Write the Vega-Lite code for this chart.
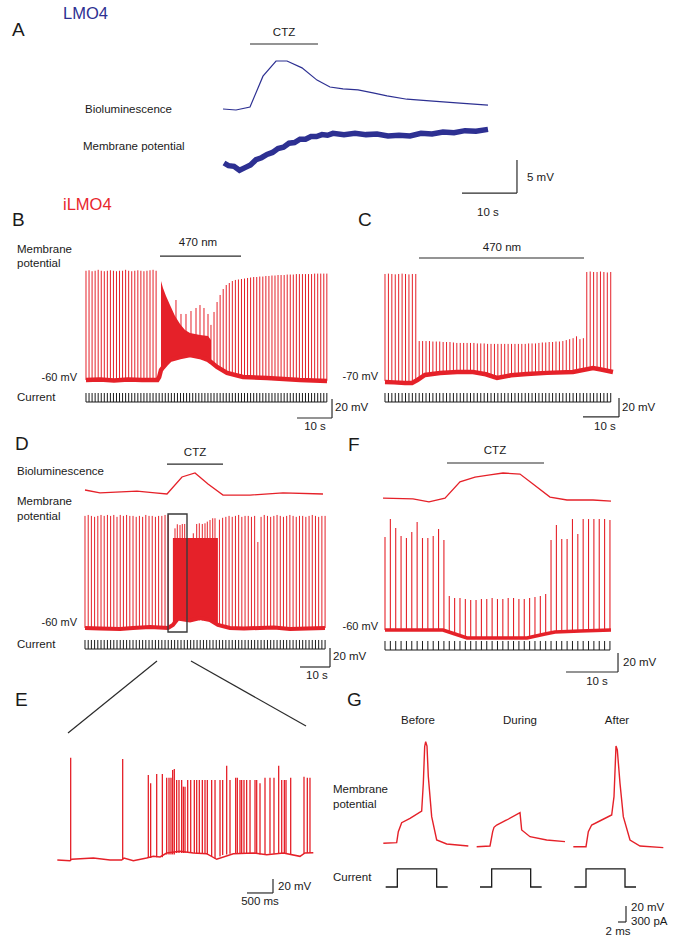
{
"$schema": "https://vega.github.io/schema/vega-lite/v6.json",
"width": 678, "height": 944,
"autosize": {"type": "fit", "contains": "padding"},
"padding": 0,
"background": "white",
"config": {"view": {"stroke": null}, "text": {"font": "Liberation Sans", "fontSize": 11.5, "color": "#1a1a1a", "baseline": "middle"}},
"resolve": {"scale": {"x": "independent", "y": "independent"}},
"layer": [
{
"encoding": {"x": {"field": "t", "type": "quantitative", "scale": {"domain": [-40.545, 82.727], "nice": false, "zero": false}, "axis": null},
 "y": {"field": "v", "type": "quantitative", "scale": {"domain": [-118.333, 24.697], "nice": false, "zero": false}, "axis": null}},
"layer": [
 {"data": {"values": [{"t":0.18,"v":0},{"t":1,"v":-0.4},{"t":2,"v":-0.5},{"t":3,"v":-1.1},{"t":4,"v":-0.7},{"t":5,"v":-0.3},{"t":6,"v":0.5},{"t":7,"v":0.8},{"t":8,"v":1.3},{"t":9,"v":1.6},{"t":10,"v":2.2},{"t":11,"v":2.4},{"t":12,"v":3.0},{"t":13,"v":3.1},{"t":14,"v":3.6},{"t":15,"v":3.6},{"t":16,"v":4.0},{"t":17,"v":4.0},{"t":18,"v":4.3},{"t":19,"v":4.2},{"t":20,"v":4.5},{"t":22,"v":4.3},{"t":24,"v":4.5},{"t":26,"v":4.3},{"t":28,"v":4.4},{"t":30,"v":4.1},{"t":32,"v":4.2},{"t":34,"v":4.1},{"t":36,"v":4.5},{"t":38,"v":4.4},{"t":40,"v":4.7},{"t":42,"v":4.6},{"t":44,"v":4.9},{"t":46,"v":4.8},{"t":48.18,"v":5.1}]},
  "mark": {"type": "line", "color": "#2d3092", "strokeWidth": 5.5}},
 {"data": {"values": [{"t":4.91,"t2":17.27,"v":18.03,"v2":18.03},{"t":53.45,"t2":53.45,"v":0.45,"v2":-4.55},{"t":43.45,"t2":53.45,"v":-4.55,"v2":-4.55}]},
  "mark": {"type": "rule", "color": "#2b2b2b", "strokeWidth": 1.2}, "encoding": {"x2": {"field": "t2"}, "y2": {"field": "v2"}}},
 {"data": {"values": [{"t":-38.36,"v":20.15,"label":"A"}]}, "mark": {"type": "text", "align": "left", "fontSize": 19}, "encoding": {"text": {"field": "label"}}},
 {"data": {"values": [{"t":-29.09,"v":22.65,"label":"LMO4"}]}, "mark": {"type": "text", "align": "left", "fontSize": 16.5, "color": "#2d3092"}, "encoding": {"text": {"field": "label"}}},
 {"data": {"values": [{"t":-25.09,"v":8.03,"label":"Bioluminescence"},{"t":-25.45,"v":2.42,"label":"Membrane potential"},{"t":55.27,"v":-2.27,"label":"5 mV"}]}, "mark": {"type": "text", "align": "left"}, "encoding": {"text": {"field": "label"}}},
 {"data": {"values": [{"t":11.09,"v":19.7,"label":"CTZ"},{"t":48.18,"v":-7.58,"label":"10 s"}]}, "mark": {"type": "text", "align": "center"}, "encoding": {"text": {"field": "label"}}}
]},
{
"data": {"values": [{"t":0,"v":0.02},{"t":2.36,"v":0},{"t":4.91,"v":0.06},{"t":7.27,"v":0.69},{"t":9.64,"v":1.0},{"t":11.64,"v":1.0},{"t":14.36,"v":0.86},{"t":17.09,"v":0.61},{"t":19.45,"v":0.47},{"t":21.82,"v":0.43},{"t":24.55,"v":0.41},{"t":27.27,"v":0.35},{"t":29.82,"v":0.29},{"t":33.45,"v":0.22},{"t":38.18,"v":0.18},{"t":43.09,"v":0.14},{"t":48.18,"v":0.1}]},
"mark": {"type": "line", "color": "#2d3092", "strokeWidth": 1.2},
"encoding": {"x": {"field": "t", "type": "quantitative", "scale": {"domain": [-40.545, 82.727], "nice": false, "zero": false}, "axis": null},
 "y": {"field": "v", "type": "quantitative", "scale": {"domain": [-17.0204, 2.2449], "nice": false, "zero": false}, "axis": null}}
},
{
"encoding": {"x": {"field": "t", "type": "quantitative", "scale": {"domain": [-24.571, 169.143], "nice": false, "zero": false}, "axis": null},
 "y": {"field": "v", "type": "quantitative", "scale": {"domain": [-653.684, 340], "nice": false, "zero": false}, "axis": null}},
"layer": [
 {"data": {"values": [{"t":0,"v":55,"b":-60},{"t":0.87,"v":55.5,"b":-60},{"t":1.74,"v":54.5,"b":-60},{"t":2.61,"v":55,"b":-60},{"t":3.48,"v":56,"b":-60},{"t":4.36,"v":55,"b":-60},{"t":5.23,"v":54.5,"b":-60},{"t":6.1,"v":55,"b":-60},{"t":6.97,"v":55.5,"b":-60},{"t":7.84,"v":55,"b":-60},{"t":8.71,"v":54.5,"b":-60},{"t":9.58,"v":55,"b":-60},{"t":10.45,"v":55,"b":-60},{"t":11.32,"v":56,"b":-60},{"t":12.19,"v":55,"b":-60},{"t":13.07,"v":54.5,"b":-60},{"t":13.94,"v":55,"b":-60},{"t":14.81,"v":55.5,"b":-60},{"t":15.68,"v":55,"b":-60},{"t":16.55,"v":54.5,"b":-60},{"t":17.42,"v":55,"b":-60},{"t":18.29,"v":55.5,"b":-60},{"t":19.16,"v":56,"b":-60},{"t":20.03,"v":55,"b":-60},
  {"t":25.71,"v":24.2,"b":-36},{"t":27.14,"v":9.5,"b":-35},{"t":28.57,"v":9.5,"b":-34},{"t":30.0,"v":12.6,"b":-34},{"t":31.43,"v":15.8,"b":-35},{"t":32.57,"v":18.9,"b":-35},{"t":33.71,"v":15.8,"b":-36},{"t":34.86,"v":9.5,"b":-38},
  {"t":35.71,"v":-2,"b":-41},{"t":36.58,"v":11.6,"b":-44},{"t":37.45,"v":22.1,"b":-46},{"t":38.32,"v":29.5,"b":-49},{"t":39.2,"v":35.8,"b":-51},{"t":40.07,"v":40,"b":-52},{"t":40.94,"v":42.1,"b":-53},{"t":41.81,"v":44.2,"b":-54},{"t":42.68,"v":45.3,"b":-55},{"t":43.55,"v":45.8,"b":-56},{"t":44.42,"v":46.3,"b":-56},{"t":45.29,"v":46.8,"b":-57},{"t":46.16,"v":47.4,"b":-57},{"t":47.03,"v":47.9,"b":-57},{"t":47.91,"v":48.4,"b":-58},{"t":48.78,"v":48.4,"b":-58},{"t":49.65,"v":48.9,"b":-58},{"t":50.52,"v":48.9,"b":-58},{"t":51.39,"v":49.5,"b":-58},{"t":52.26,"v":49.5,"b":-58},{"t":53.13,"v":50,"b":-58},{"t":54.0,"v":50,"b":-59},{"t":54.87,"v":50.5,"b":-59},{"t":55.74,"v":50.5,"b":-59},{"t":56.62,"v":50.5,"b":-59},{"t":57.49,"v":51,"b":-59},{"t":58.36,"v":51,"b":-59},{"t":59.23,"v":51,"b":-60},{"t":60.1,"v":51.5,"b":-60},{"t":60.97,"v":51.5,"b":-60},{"t":61.84,"v":51.5,"b":-60},{"t":62.71,"v":51.5,"b":-60},{"t":63.58,"v":51.5,"b":-60},{"t":64.45,"v":51.5,"b":-60},{"t":65.33,"v":52,"b":-60},{"t":66.2,"v":52,"b":-60},{"t":67.07,"v":52,"b":-60},{"t":67.94,"v":52,"b":-60},{"t":68.81,"v":52,"b":-61}]},
  "mark": {"type": "rule", "color": "#e52129", "strokeWidth": 1}, "encoding": {"y2": {"field": "b"}}},
 {"data": {"values": [{"t":21.43,"v":44.2,"b":-49.5},{"t":22.0,"v":36.8,"b":-46.8},{"t":22.86,"v":28.4,"b":-43.2},{"t":24.0,"v":18.9,"b":-38.9},{"t":25.43,"v":7.4,"b":-36.8},{"t":26.86,"v":-1.1,"b":-35.8},{"t":28.29,"v":-7.4,"b":-34.7},{"t":29.71,"v":-10.5,"b":-33.7},{"t":32.57,"v":-12.6,"b":-35.8},{"t":34.86,"v":-13.7,"b":-38.9},{"t":35.71,"v":-17.9,"b":-41.1}]},
  "mark": {"type": "area", "color": "#e52129"}, "encoding": {"y2": {"field": "b"}}},
 {"data": {"values": [{"t":0,"v":-60},{"t":4,"v":-59.5},{"t":8,"v":-60.5},{"t":12,"v":-59.5},{"t":16,"v":-60},{"t":20.4,"v":-60},{"t":20.9,"v":-57},{"t":21.43,"v":-49.5},{"t":22.0,"v":-46.8},{"t":22.86,"v":-43.2},{"t":24.0,"v":-38.9},{"t":26.86,"v":-35.8},{"t":29.71,"v":-33.7},{"t":32.57,"v":-35.8},{"t":34.86,"v":-38.9},{"t":35.71,"v":-41.1},{"t":37.43,"v":-46.3},{"t":40.29,"v":-52.6},{"t":44.86,"v":-56.8},{"t":51.71,"v":-57.9},{"t":61.14,"v":-60},{"t":68.86,"v":-61}]},
  "mark": {"type": "line", "color": "#e52129", "strokeWidth": 4.5}},
 {"data": {"values": [{"t":21.14,"t2":44.29,"v":70.5,"v2":70.5},{"t":70.29,"t2":70.29,"v":-80,"v2":-100},{"t":60.29,"t2":70.29,"v":-100,"v2":-100}]},
  "mark": {"type": "rule", "color": "#2b2b2b", "strokeWidth": 1.2}, "encoding": {"x2": {"field": "t2"}, "y2": {"field": "v2"}}},
 {"data": {"values": [{"t":-21.14,"v":108.4,"label":"B"}]}, "mark": {"type": "text", "align": "left", "fontSize": 19}, "encoding": {"text": {"field": "label"}}},
 {"data": {"values": [{"t":-6.57,"v":124.2,"label":"iLMO4"}]}, "mark": {"type": "text", "align": "left", "fontSize": 16.5, "color": "#e8262d"}, "encoding": {"text": {"field": "label"}}},
 {"data": {"values": [{"t":-19.71,"v":76.8,"label":"Membrane"},{"t":-19.71,"v":62.1,"label":"potential"},{"t":-19.71,"v":-78.9,"label":"Current"},{"t":71.14,"v":-89.5,"label":"20 mV"}]}, "mark": {"type": "text", "align": "left"}, "encoding": {"text": {"field": "label"}}},
 {"data": {"values": [{"t":32.0,"v":84.2,"label":"470 nm"},{"t":65.43,"v":-109.5,"label":"10 s"}]}, "mark": {"type": "text", "align": "center"}, "encoding": {"text": {"field": "label"}}},
 {"data": {"values": [{"t":-2.57,"v":-57.9,"label":"-60 mV"}]}, "mark": {"type": "text", "align": "right", "fontSize": 11}, "encoding": {"text": {"field": "label"}}}
]},
{
"data": {"values": [{"t":0},{"t":0.87},{"t":1.74},{"t":2.61},{"t":3.48},{"t":4.36},{"t":5.23},{"t":6.1},{"t":6.97},{"t":7.84},{"t":8.71},{"t":9.58},{"t":10.45},{"t":11.32},{"t":12.19},{"t":13.07},{"t":13.94},{"t":14.81},{"t":15.68},{"t":16.55},{"t":17.42},{"t":18.29},{"t":19.16},{"t":20.03},{"t":20.9},{"t":21.78},{"t":22.65},{"t":23.52},{"t":24.39},{"t":25.26},{"t":26.13},{"t":27.0},{"t":27.87},{"t":28.74},{"t":29.61},{"t":30.49},{"t":31.36},{"t":32.23},{"t":33.1},{"t":33.97},{"t":34.84},{"t":35.71},{"t":36.58},{"t":37.45},{"t":38.32},{"t":39.2},{"t":40.07},{"t":40.94},{"t":41.81},{"t":42.68},{"t":43.55},{"t":44.42},{"t":45.29},{"t":46.16},{"t":47.03},{"t":47.91},{"t":48.78},{"t":49.65},{"t":50.52},{"t":51.39},{"t":52.26},{"t":53.13},{"t":54.0},{"t":54.87},{"t":55.74},{"t":56.62},{"t":57.49},{"t":58.36},{"t":59.23},{"t":60.1},{"t":60.97},{"t":61.84},{"t":62.71},{"t":63.58},{"t":64.45},{"t":65.33},{"t":66.2},{"t":67.07},{"t":67.94},{"t":68.81}]},
"encoding": {"x": {"field": "t", "type": "quantitative", "scale": {"domain": [-24.571, 169.143], "nice": false, "zero": false}, "axis": null}},
"layer": [
 {"mark": {"type": "rule", "color": "#1a1a1a", "strokeWidth": 1}, "encoding": {"y": {"datum": 100, "type": "quantitative", "scale": {"domain": [-6022.2, 4466.7], "nice": false, "zero": false}, "axis": null}, "y2": {"datum": 0}}},
 {"mark": {"type": "line", "color": "#1a1a1a", "strokeWidth": 1.2}, "encoding": {"y": {"datum": 0, "type": "quantitative", "scale": {"domain": [-6022.2, 4466.7], "nice": false, "zero": false}, "axis": null}}}
]},
{
"encoding": {"x": {"field": "t", "type": "quantitative", "scale": {"domain": [-106.944, 81.389], "nice": false, "zero": false}, "axis": null},
 "y": {"field": "v", "type": "quantitative", "scale": {"domain": [-663.684, 330], "nice": false, "zero": false}, "axis": null}},
"layer": [
 {"data": {"values": [{"t":0,"v":41.6,"b":-71},{"t":0.95,"v":42,"b":-71},{"t":1.9,"v":41.6,"b":-71},{"t":2.85,"v":41.2,"b":-71},{"t":3.8,"v":41.6,"b":-71},{"t":4.75,"v":42,"b":-71},{"t":5.7,"v":41.6,"b":-72},{"t":6.65,"v":41.2,"b":-72},{"t":7.6,"v":41.6,"b":-72},{"t":8.55,"v":41.6,"b":-71},
  {"t":9.5,"v":-29,"b":-68},{"t":10.45,"v":-29,"b":-65},{"t":11.4,"v":-29,"b":-64},{"t":12.35,"v":-29,"b":-63},{"t":13.3,"v":-29.5,"b":-63},{"t":14.25,"v":-29.5,"b":-62},{"t":15.2,"v":-29.5,"b":-62},{"t":16.15,"v":-30,"b":-62},{"t":17.1,"v":-30,"b":-62},{"t":18.05,"v":-30,"b":-62},{"t":19.0,"v":-30.5,"b":-62},{"t":19.95,"v":-31,"b":-61},{"t":20.9,"v":-31,"b":-61},{"t":21.85,"v":-31,"b":-61},{"t":22.8,"v":-31,"b":-61},{"t":23.75,"v":-31,"b":-61},{"t":24.7,"v":-31,"b":-61},{"t":25.65,"v":-31.5,"b":-62},{"t":26.6,"v":-31.5,"b":-63},{"t":27.55,"v":-31.5,"b":-64},{"t":28.5,"v":-32,"b":-65},{"t":29.45,"v":-32,"b":-66},{"t":30.4,"v":-32,"b":-67},{"t":31.35,"v":-32,"b":-67},{"t":32.3,"v":-32,"b":-66},{"t":33.25,"v":-32,"b":-65},{"t":34.2,"v":-32,"b":-64},{"t":35.15,"v":-32,"b":-64},{"t":36.1,"v":-32,"b":-63},{"t":37.05,"v":-32,"b":-63},{"t":38.0,"v":-32,"b":-63},{"t":38.95,"v":-32,"b":-63},{"t":39.9,"v":-31.5,"b":-63},{"t":40.85,"v":-31.5,"b":-63},{"t":41.8,"v":-31.5,"b":-62},{"t":42.75,"v":-31,"b":-62},{"t":43.7,"v":-30.5,"b":-62},{"t":44.65,"v":-30.5,"b":-62},{"t":45.6,"v":-30,"b":-62},{"t":46.55,"v":-30,"b":-61},{"t":47.5,"v":-29.5,"b":-61},{"t":48.45,"v":-29.5,"b":-61},{"t":49.4,"v":-29,"b":-61},{"t":50.35,"v":-28,"b":-61},{"t":51.3,"v":-27,"b":-61},{"t":52.25,"v":-26,"b":-60},{"t":53.2,"v":-24,"b":-60},{"t":54.15,"v":-27,"b":-59},{"t":55.1,"v":-26,"b":-58},
  {"t":56.05,"v":43.7,"b":-58},{"t":57.0,"v":44.2,"b":-58},{"t":57.95,"v":43.7,"b":-58},{"t":58.9,"v":43.7,"b":-59},{"t":59.85,"v":44.2,"b":-59},{"t":60.8,"v":43.7,"b":-60},{"t":61.75,"v":43.2,"b":-60},{"t":62.7,"v":43.7,"b":-60}]},
  "mark": {"type": "rule", "color": "#e52129", "strokeWidth": 1}, "encoding": {"y2": {"field": "b"}}},
 {"data": {"values": [{"t":0,"v":-72.1},{"t":2.5,"v":-72.5},{"t":5.56,"v":-73.2},{"t":7.5,"v":-73.2},{"t":9.0,"v":-70},{"t":11.11,"v":-64.7},{"t":15.28,"v":-62.6},{"t":20,"v":-61.5},{"t":24.44,"v":-61.6},{"t":28,"v":-64},{"t":31.11,"v":-67.9},{"t":35,"v":-65},{"t":39.44,"v":-63.7},{"t":45,"v":-62.5},{"t":52.22,"v":-61.6},{"t":57.78,"v":-57.4},{"t":60,"v":-59},{"t":63.33,"v":-61.6}]},
  "mark": {"type": "line", "color": "#e52129", "strokeWidth": 4.5}},
 {"data": {"values": [{"t":9.44,"t2":55.28,"v":58.4,"v2":58.4},{"t":65.0,"t2":65.0,"v":-88.9,"v2":-108.9},{"t":55.0,"t2":65.0,"v":-108.9,"v2":-108.9}]},
  "mark": {"type": "rule", "color": "#2b2b2b", "strokeWidth": 1.2}, "encoding": {"x2": {"field": "t2"}, "y2": {"field": "v2"}}},
 {"data": {"values": [{"t":-7.5,"v":98.4,"label":"C"}]}, "mark": {"type": "text", "align": "left", "fontSize": 19}, "encoding": {"text": {"field": "label"}}},
 {"data": {"values": [{"t":65.83,"v":-99.5,"label":"20 mV"}]}, "mark": {"type": "text", "align": "left"}, "encoding": {"text": {"field": "label"}}},
 {"data": {"values": [{"t":32.5,"v":68.9,"label":"470 nm"},{"t":61.11,"v":-119.5,"label":"10 s"}]}, "mark": {"type": "text", "align": "center"}, "encoding": {"text": {"field": "label"}}},
 {"data": {"values": [{"t":-1.94,"v":-66.8,"label":"-70 mV"}]}, "mark": {"type": "text", "align": "right", "fontSize": 11}, "encoding": {"text": {"field": "label"}}}
]},
{
"data": {"values": [{"t":0},{"t":0.95},{"t":1.9},{"t":2.85},{"t":3.8},{"t":4.75},{"t":5.7},{"t":6.65},{"t":7.6},{"t":8.55},{"t":9.5},{"t":10.45},{"t":11.4},{"t":12.35},{"t":13.3},{"t":14.25},{"t":15.2},{"t":16.15},{"t":17.1},{"t":18.05},{"t":19},{"t":19.95},{"t":20.9},{"t":21.85},{"t":22.8},{"t":23.75},{"t":24.7},{"t":25.65},{"t":26.6},{"t":27.55},{"t":28.5},{"t":29.45},{"t":30.4},{"t":31.35},{"t":32.3},{"t":33.25},{"t":34.2},{"t":35.15},{"t":36.1},{"t":37.05},{"t":38},{"t":38.95},{"t":39.9},{"t":40.85},{"t":41.8},{"t":42.75},{"t":43.7},{"t":44.65},{"t":45.6},{"t":46.55},{"t":47.5},{"t":48.45},{"t":49.4},{"t":50.35},{"t":51.3},{"t":52.25},{"t":53.2},{"t":54.15},{"t":55.1},{"t":56.05},{"t":57},{"t":57.95},{"t":58.9},{"t":59.85},{"t":60.8},{"t":61.75},{"t":62.7}]},
"encoding": {"x": {"field": "t", "type": "quantitative", "scale": {"domain": [-106.944, 81.389], "nice": false, "zero": false}, "axis": null}},
"layer": [
 {"mark": {"type": "rule", "color": "#1a1a1a", "strokeWidth": 1}, "encoding": {"y": {"datum": 100, "type": "quantitative", "scale": {"domain": [-6022.2, 4466.7], "nice": false, "zero": false}, "axis": null}, "y2": {"datum": 0}}},
 {"mark": {"type": "line", "color": "#1a1a1a", "strokeWidth": 1.2}, "encoding": {"y": {"datum": 0, "type": "quantitative", "scale": {"domain": [-6022.2, 4466.7], "nice": false, "zero": false}, "axis": null}}}
]},
{
"encoding": {"x": {"field": "t", "type": "quantitative", "scale": {"domain": [-28.333, 197.667], "nice": false, "zero": false}, "axis": null},
 "y": {"field": "v", "type": "quantitative", "scale": {"domain": [-392.632, 601.053], "nice": false, "zero": false}, "axis": null}},
"layer": [
 {"data": {"values": [{"t":0,"v":58,"b":-60},{"t":1.07,"v":59,"b":-60},{"t":2.13,"v":58,"b":-60},{"t":3.2,"v":57,"b":-60},{"t":4.27,"v":58,"b":-60},{"t":5.34,"v":59,"b":-60},{"t":6.4,"v":58,"b":-60},{"t":7.47,"v":59,"b":-60},{"t":8.54,"v":58,"b":-60},{"t":9.6,"v":59,"b":-60},{"t":10.67,"v":57,"b":-60},{"t":11.74,"v":59,"b":-60},{"t":12.8,"v":58,"b":-60},{"t":13.87,"v":59,"b":-60},{"t":14.94,"v":58,"b":-60},{"t":16.01,"v":58,"b":-60},{"t":17.07,"v":57,"b":-60},{"t":18.14,"v":58,"b":-60},{"t":19.21,"v":57,"b":-60},{"t":20.27,"v":59,"b":-60},{"t":21.34,"v":58,"b":-60},{"t":22.41,"v":58,"b":-60},{"t":23.47,"v":57,"b":-60},{"t":24.54,"v":58,"b":-60},{"t":25.61,"v":58,"b":-60},{"t":26.68,"v":59,"b":-60},{"t":27.74,"v":59,"b":-60},
  {"t":30.0,"v":44.9,"b":-52},{"t":30.77,"v":49.2,"b":-52},{"t":31.67,"v":48.4,"b":-52},{"t":32.43,"v":49.5,"b":-52},{"t":33.23,"v":49.5,"b":-52},{"t":36.1,"v":39.7,"b":-52},{"t":37.23,"v":49.5,"b":-52},{"t":38.1,"v":50.2,"b":-52},{"t":39.1,"v":49.5,"b":-52},{"t":40.0,"v":50.2,"b":-52},{"t":40.77,"v":52.0,"b":-52},{"t":41.67,"v":53.7,"b":-52},{"t":42.57,"v":55.5,"b":-53},{"t":43.33,"v":55.5,"b":-54},
  {"t":44.81,"v":54,"b":-57},{"t":45.88,"v":56,"b":-59},{"t":46.95,"v":57,"b":-60},{"t":48.02,"v":58,"b":-60},{"t":49.08,"v":57,"b":-60},{"t":50.15,"v":58,"b":-60},{"t":51.22,"v":59,"b":-60},{"t":52.28,"v":57,"b":-60},{"t":53.35,"v":58,"b":-60},{"t":54.42,"v":58,"b":-60},{"t":55.48,"v":57,"b":-60},{"t":56.55,"v":58,"b":-60},{"t":57.62,"v":30.5,"b":-60},{"t":58.69,"v":57,"b":-60},{"t":59.75,"v":59,"b":-60},{"t":60.82,"v":58,"b":-60},{"t":61.89,"v":57,"b":-60},{"t":62.95,"v":58,"b":-60},{"t":64.02,"v":59,"b":-60},{"t":65.09,"v":58,"b":-60},{"t":66.15,"v":57,"b":-60},{"t":67.22,"v":58,"b":-60},{"t":68.29,"v":59,"b":-60},{"t":69.36,"v":58,"b":-60},{"t":70.42,"v":57,"b":-60},{"t":71.49,"v":58,"b":-60},{"t":72.56,"v":58,"b":-60},{"t":73.62,"v":57,"b":-60},{"t":74.69,"v":58,"b":-60},{"t":75.76,"v":59,"b":-60},{"t":76.82,"v":58,"b":-60},{"t":77.89,"v":57,"b":-60},{"t":78.96,"v":58,"b":-60},{"t":80.03,"v":58,"b":-60}]},
  "mark": {"type": "rule", "color": "#e52129", "strokeWidth": 1}, "encoding": {"y2": {"field": "b"}}},
 {"data": {"values": [{"t":29.3,"v":34.7,"b":-56.8},{"t":31.0,"v":34.7,"b":-50},{"t":33.0,"v":34.7,"b":-51},{"t":35.0,"v":34.7,"b":-52},{"t":38.33,"v":34.7,"b":-49.5},{"t":41.67,"v":34.7,"b":-51.6},{"t":44.3,"v":34.7,"b":-56.8}]},
  "mark": {"type": "area", "color": "#e52129"}, "encoding": {"y2": {"field": "b"}}},
 {"data": {"values": [{"t":0,"v":-60},{"t":5,"v":-60.5},{"t":11.67,"v":-61.1},{"t":16,"v":-60},{"t":21.67,"v":-58.9},{"t":27.67,"v":-60},{"t":29.3,"v":-56.8},{"t":31.0,"v":-50},{"t":33.0,"v":-51},{"t":35.0,"v":-52},{"t":38.33,"v":-49.5},{"t":41.67,"v":-51.6},{"t":44.3,"v":-56.8},{"t":48.33,"v":-60},{"t":53,"v":-60.5},{"t":58.33,"v":-60},{"t":63,"v":-59.5},{"t":68.33,"v":-61.1},{"t":74,"v":-60.5},{"t":80,"v":-60}]},
  "mark": {"type": "line", "color": "#e52129", "strokeWidth": 4}},
 {"data": {"values": [{"t":27.67,"t2":34.0,"v":60.0,"v2":-64.2}]}, "mark": {"type": "rect", "filled": false, "color": "#3a3a3a", "strokeWidth": 1.4}, "encoding": {"x2": {"field": "t2"}, "y2": {"field": "v2"}}},
 {"data": {"values": [{"t":27.33,"t2":46.0,"v":112.6,"v2":112.6},{"t":81.67,"t2":81.67,"v":-81.05,"v2":-101.05},{"t":71.67,"t2":81.67,"v":-101.05,"v2":-101.05}]},
  "mark": {"type": "rule", "color": "#2b2b2b", "strokeWidth": 1.2}, "encoding": {"x2": {"field": "t2"}, "y2": {"field": "v2"}}},
 {"data": {"values": [{"t":-23.33,"v":133.7,"label":"D"}]}, "mark": {"type": "text", "align": "left", "fontSize": 19}, "encoding": {"text": {"field": "label"}}},
 {"data": {"values": [{"t":-22.67,"v":104.2,"label":"Bioluminescence"},{"t":-22.67,"v":72.6,"label":"Membrane"},{"t":-22.67,"v":56.8,"label":"potential"},{"t":-22.67,"v":-77.9,"label":"Current"},{"t":82.67,"v":-90.5,"label":"20 mV"}]}, "mark": {"type": "text", "align": "left"}, "encoding": {"text": {"field": "label"}}},
 {"data": {"values": [{"t":36.67,"v":124.2,"label":"CTZ"},{"t":77.33,"v":-110.5,"label":"10 s"}]}, "mark": {"type": "text", "align": "center"}, "encoding": {"text": {"field": "label"}}},
 {"data": {"values": [{"t":-2.67,"v":-54.7,"label":"-60 mV"}]}, "mark": {"type": "text", "align": "right", "fontSize": 11}, "encoding": {"text": {"field": "label"}}}
]},
{
"data": {"values": [{"t":0,"v":0.19},{"t":5.0,"v":0.05},{"t":17.33,"v":0.14},{"t":23.33,"v":0.05},{"t":27.33,"v":0},{"t":32.33,"v":0.81},{"t":36.67,"v":1.0},{"t":41.0,"v":0.48},{"t":46.0,"v":-0.05},{"t":55.0,"v":-0.05},{"t":66.0,"v":0.05},{"t":79.33,"v":0}]},
"mark": {"type": "line", "color": "#e52129", "strokeWidth": 1.3},
"encoding": {"x": {"field": "t", "type": "quantitative", "scale": {"domain": [-28.333, 197.667], "nice": false, "zero": false}, "axis": null},
 "y": {"field": "v", "type": "quantitative", "scale": {"domain": [-21.4286, 23.5238], "nice": false, "zero": false}, "axis": null}}
},
{
"data": {"values": [{"t":0},{"t":1.07},{"t":2.13},{"t":3.2},{"t":4.27},{"t":5.34},{"t":6.4},{"t":7.47},{"t":8.54},{"t":9.6},{"t":10.67},{"t":11.74},{"t":12.8},{"t":13.87},{"t":14.94},{"t":16.01},{"t":17.07},{"t":18.14},{"t":19.21},{"t":20.27},{"t":21.34},{"t":22.41},{"t":23.47},{"t":24.54},{"t":25.61},{"t":26.68},{"t":27.74},{"t":28.81},{"t":29.88},{"t":30.94},{"t":32.01},{"t":33.08},{"t":34.14},{"t":35.21},{"t":36.28},{"t":37.35},{"t":38.41},{"t":39.48},{"t":40.55},{"t":41.61},{"t":42.68},{"t":43.75},{"t":44.81},{"t":45.88},{"t":46.95},{"t":48.02},{"t":49.08},{"t":50.15},{"t":51.22},{"t":52.28},{"t":53.35},{"t":54.42},{"t":55.48},{"t":56.55},{"t":57.62},{"t":58.69},{"t":59.75},{"t":60.82},{"t":61.89},{"t":62.95},{"t":64.02},{"t":65.09},{"t":66.15},{"t":67.22},{"t":68.29},{"t":69.36},{"t":70.42},{"t":71.49},{"t":72.56},{"t":73.62},{"t":74.69},{"t":75.76},{"t":76.82},{"t":77.89},{"t":78.96},{"t":80.03}]},
"encoding": {"x": {"field": "t", "type": "quantitative", "scale": {"domain": [-28.333, 197.667], "nice": false, "zero": false}, "axis": null}},
"layer": [
 {"mark": {"type": "rule", "color": "#1a1a1a", "strokeWidth": 1}, "encoding": {"y": {"datum": 100, "type": "quantitative", "scale": {"domain": [-3277.8, 7211.1], "nice": false, "zero": false}, "axis": null}, "y2": {"datum": 0}}},
 {"mark": {"type": "line", "color": "#1a1a1a", "strokeWidth": 1.2}, "encoding": {"y": {"datum": 0, "type": "quantitative", "scale": {"domain": [-3277.8, 7211.1], "nice": false, "zero": false}, "axis": null}}}
]},
{
"encoding": {"x": {"field": "t", "type": "quantitative", "scale": {"domain": [-74.038, 56.346], "nice": false, "zero": false}, "axis": null},
 "y": {"field": "v", "type": "quantitative", "scale": {"domain": [-390.526, 603.158], "nice": false, "zero": false}, "axis": null}},
"layer": [
 {"data": {"values": [{"t":0,"v":37.9,"b":-60},{"t":1.03,"v":56.8,"b":-60},{"t":2.06,"v":47.4,"b":-60},{"t":3.09,"v":38.9,"b":-60},{"t":4.12,"v":36.8,"b":-60},{"t":5.15,"v":43.2,"b":-60},{"t":6.18,"v":53.7,"b":-60},{"t":7.21,"v":36.8,"b":-60},{"t":8.24,"v":36.8,"b":-60},{"t":9.27,"v":38.9,"b":-60},{"t":10.3,"v":46.3,"b":-60},{"t":11.33,"v":34.7,"b":-60},
  {"t":12.36,"v":-24.2,"b":-62},{"t":13.39,"v":-26.3,"b":-64},{"t":14.42,"v":-26.3,"b":-66},{"t":15.45,"v":-27.4,"b":-68},{"t":16.48,"v":-28.4,"b":-68},{"t":17.51,"v":-28.4,"b":-68},{"t":18.54,"v":-27.4,"b":-68},{"t":19.57,"v":-27.4,"b":-68},{"t":20.6,"v":-26.3,"b":-68},{"t":21.63,"v":-27.4,"b":-68},{"t":22.66,"v":-27.4,"b":-68},{"t":23.69,"v":-26.3,"b":-68},{"t":24.72,"v":-26.3,"b":-68},{"t":25.75,"v":-27.4,"b":-68},{"t":26.78,"v":-27.4,"b":-68},{"t":27.81,"v":-26.3,"b":-68},{"t":28.84,"v":-25.3,"b":-67},{"t":29.87,"v":-24.2,"b":-65.5},{"t":30.9,"v":-22.1,"b":-64},
  {"t":31.93,"v":34.7,"b":-61},{"t":32.96,"v":50.5,"b":-61},{"t":33.99,"v":35.8,"b":-61},{"t":35.02,"v":35.8,"b":-61},{"t":36.05,"v":56.8,"b":-61},{"t":37.08,"v":41.1,"b":-61},{"t":38.11,"v":56.8,"b":-61},{"t":39.14,"v":56.8,"b":-61},{"t":40.17,"v":56.8,"b":-61},{"t":41.2,"v":56.8,"b":-61},{"t":42.23,"v":56.8,"b":-61},{"t":43.26,"v":55.8,"b":-61}]},
  "mark": {"type": "rule", "color": "#e52129", "strokeWidth": 1.1}, "encoding": {"y2": {"field": "b"}}},
 {"data": {"values": [{"t":0,"v":-60},{"t":11.15,"v":-60},{"t":13.46,"v":-64.2},{"t":15.77,"v":-68.4},{"t":22.12,"v":-68.4},{"t":27.31,"v":-68.4},{"t":30.77,"v":-64.2},{"t":32.69,"v":-62.1},{"t":37.5,"v":-61.1},{"t":43.46,"v":-60}]},
  "mark": {"type": "line", "color": "#e52129", "strokeWidth": 3.5}},
 {"data": {"values": [{"t":11.92,"t2":30.58,"v":115.8,"v2":115.8},{"t":44.81,"t2":44.81,"v":-84.2,"v2":-104.2},{"t":34.81,"t2":44.81,"v":-104.2,"v2":-104.2}]},
  "mark": {"type": "rule", "color": "#2b2b2b", "strokeWidth": 1.2}, "encoding": {"x2": {"field": "t2"}, "y2": {"field": "v2"}}},
 {"data": {"values": [{"t":-7.12,"v":134.7,"label":"F"}]}, "mark": {"type": "text", "align": "left", "fontSize": 19}, "encoding": {"text": {"field": "label"}}},
 {"data": {"values": [{"t":45.77,"v":-94.7,"label":"20 mV"}]}, "mark": {"type": "text", "align": "left"}, "encoding": {"text": {"field": "label"}}},
 {"data": {"values": [{"t":21.15,"v":128.4,"label":"CTZ"},{"t":40.77,"v":-114.7,"label":"10 s"}]}, "mark": {"type": "text", "align": "center"}, "encoding": {"text": {"field": "label"}}},
 {"data": {"values": [{"t":-1.35,"v":-56.8,"label":"-60 mV"}]}, "mark": {"type": "text", "align": "right", "fontSize": 11}, "encoding": {"text": {"field": "label"}}}
]},
{
"data": {"values": [{"t":-0.38,"v":0.07},{"t":5.38,"v":0.04},{"t":8.46,"v":-0.07},{"t":11.54,"v":0.07},{"t":14.42,"v":0.67},{"t":17.31,"v":0.85},{"t":20.19,"v":0.93},{"t":22.69,"v":1.0},{"t":25.96,"v":0.96},{"t":28.46,"v":0.59},{"t":31.73,"v":0.11},{"t":35.0,"v":0},{"t":40.0,"v":0},{"t":43.46,"v":-0.04}]},
"mark": {"type": "line", "color": "#e52129", "strokeWidth": 1.3},
"encoding": {"x": {"field": "t", "type": "quantitative", "scale": {"domain": [-74.038, 56.346], "nice": false, "zero": false}, "axis": null},
 "y": {"field": "v", "type": "quantitative", "scale": {"domain": [-16.4444, 18.5185], "nice": false, "zero": false}, "axis": null}}
},
{
"data": {"values": [{"t":0},{"t":1.03},{"t":2.06},{"t":3.09},{"t":4.12},{"t":5.15},{"t":6.18},{"t":7.21},{"t":8.24},{"t":9.27},{"t":10.3},{"t":11.33},{"t":12.36},{"t":13.39},{"t":14.42},{"t":15.45},{"t":16.48},{"t":17.51},{"t":18.54},{"t":19.57},{"t":20.6},{"t":21.63},{"t":22.66},{"t":23.69},{"t":24.72},{"t":25.75},{"t":26.78},{"t":27.81},{"t":28.84},{"t":29.87},{"t":30.9},{"t":31.93},{"t":32.96},{"t":33.99},{"t":35.02},{"t":36.05},{"t":37.08},{"t":38.11},{"t":39.14},{"t":40.17},{"t":41.2},{"t":42.23},{"t":43.26}]},
"encoding": {"x": {"field": "t", "type": "quantitative", "scale": {"domain": [-74.038, 56.346], "nice": false, "zero": false}, "axis": null}},
"layer": [
 {"mark": {"type": "rule", "color": "#1a1a1a", "strokeWidth": 1}, "encoding": {"y": {"datum": 100, "type": "quantitative", "scale": {"domain": [-3266.7, 7222.2], "nice": false, "zero": false}, "axis": null}, "y2": {"datum": 0}}},
 {"mark": {"type": "line", "color": "#1a1a1a", "strokeWidth": 1.2}, "encoding": {"y": {"datum": 0, "type": "quantitative", "scale": {"domain": [-3266.7, 7222.2], "nice": false, "zero": false}, "axis": null}}}
]},
{
"encoding": {"x": {"field": "t", "type": "quantitative", "scale": {"domain": [-1096.15, 11942.31], "nice": false, "zero": false}, "axis": null},
 "y": {"field": "v", "type": "quantitative", "scale": {"domain": [-180, 1168.571], "nice": false, "zero": false}, "axis": null}},
"layer": [
 {"data": {"values": [{"t":263,"v":86.2,"b":-60},{"t":1263,"v":84.3,"b":-60},{"t":1756,"v":61.4,"b":-57},{"t":1801,"v":49.5,"b":-57},{"t":1917,"v":62.9,"b":-56},{"t":2026,"v":62.9,"b":-56},{"t":2109,"v":57.6,"b":-52},{"t":2154,"v":57.6,"b":-52},{"t":2192,"v":57.6,"b":-52},{"t":2224,"v":68.6,"b":-52},{"t":2256,"v":70.0,"b":-52},{"t":2301,"v":54.3,"b":-50},{"t":2346,"v":54.3,"b":-50},{"t":2397,"v":54.3,"b":-50},{"t":2430,"v":44.8,"b":-50},{"t":2462,"v":44.8,"b":-50},{"t":2513,"v":54.3,"b":-50},{"t":2571,"v":54.3,"b":-50},{"t":2641,"v":54.3,"b":-50},{"t":2686,"v":54.3,"b":-51},{"t":2737,"v":54.3,"b":-51},{"t":2795,"v":54.3,"b":-51},{"t":2846,"v":54.3,"b":-51},{"t":2891,"v":54.3,"b":-52},{"t":2974,"v":54.3,"b":-55},{"t":3039,"v":54.3,"b":-58},{"t":3135,"v":54.3,"b":-55},{"t":3186,"v":54.3,"b":-53},{"t":3263,"v":74.8,"b":-52},{"t":3327,"v":54.3,"b":-51},{"t":3436,"v":57.6,"b":-51},{"t":3468,"v":57.6,"b":-51},{"t":3519,"v":54.3,"b":-50},{"t":3551,"v":54.3,"b":-50},{"t":3596,"v":54.3,"b":-50},{"t":3647,"v":54.3,"b":-50},{"t":3712,"v":54.3,"b":-50},{"t":3808,"v":54.3,"b":-51},{"t":3840,"v":54.3,"b":-51},{"t":3904,"v":49.5,"b":-52},{"t":4000,"v":57.6,"b":-52},{"t":4096,"v":57.6,"b":-51},{"t":4173,"v":57.6,"b":-51},{"t":4263,"v":74.8,"b":-50},{"t":4321,"v":54.3,"b":-50},{"t":4372,"v":54.3,"b":-50},{"t":4404,"v":54.3,"b":-50},{"t":4494,"v":57.6,"b":-53},{"t":4750,"v":59.0,"b":-51},{"t":4814,"v":57.6,"b":-50},{"t":4865,"v":57.6,"b":-50}]},
  "mark": {"type": "rule", "color": "#e52129", "strokeWidth": 1.3}, "encoding": {"y2": {"field": "b"}}},
 {"data": {"values": [{"t":6,"v":-60},{"t":250,"v":-61},{"t":282,"v":-59},{"t":699,"v":-57.1},{"t":1019,"v":-60},{"t":1244,"v":-60},{"t":1288,"v":-57.1},{"t":1468,"v":-61},{"t":1724,"v":-57.1},{"t":1853,"v":-54.8},{"t":1981,"v":-55.7},{"t":2109,"v":-50},{"t":2365,"v":-47.6},{"t":2622,"v":-50},{"t":2878,"v":-51},{"t":3071,"v":-59},{"t":3391,"v":-51},{"t":3776,"v":-50},{"t":4032,"v":-52.4},{"t":4353,"v":-50},{"t":4673,"v":-54.8},{"t":4769,"v":-50},{"t":4929,"v":-49.5}]},
  "mark": {"type": "line", "color": "#e52129", "strokeWidth": 1.5}},
 {"data": {"values": [{"t":4153.8,"t2":4153.8,"v":-87.1,"v2":-107.1},{"t":3653.8,"t2":4153.8,"v":-107.1,"v2":-107.1},{"t":1923.1,"t2":211.5,"v":224.3,"v2":121.4},{"t":2576.9,"t2":4788.5,"v":224.3,"v2":131.4}]},
  "mark": {"type": "rule", "color": "#2b2b2b", "strokeWidth": 1.2}, "encoding": {"x2": {"field": "t2"}, "y2": {"field": "v2"}}},
 {"data": {"values": [{"t":-807.7,"v":168.6,"label":"E"}]}, "mark": {"type": "text", "align": "left", "fontSize": 19}, "encoding": {"text": {"field": "label"}}},
 {"data": {"values": [{"t":4250,"v":-98.6,"label":"20 mV"}]}, "mark": {"type": "text", "align": "left"}, "encoding": {"text": {"field": "label"}}},
 {"data": {"values": [{"t":3903.8,"v":-120,"label":"500 ms"}]}, "mark": {"type": "text", "align": "center"}, "encoding": {"text": {"field": "label"}}}
]},
{
"encoding": {"x": {"field": "t", "type": "quantitative", "scale": {"domain": [-95.75, 73.75], "nice": false, "zero": false}, "axis": null},
 "y": {"field": "v", "type": "quantitative", "scale": {"domain": [-183.75, 996.25], "nice": false, "zero": false}, "axis": null}},
"layer": [
 {"data": {"values": [{"s":"Before","t":0.08,"v":-57.9},{"s":"Before","t":3.42,"v":-57.1},{"s":"Before","t":3.83,"v":-43.3},{"s":"Before","t":4.67,"v":-32.1},{"s":"Before","t":6.75,"v":-26.7},{"s":"Before","t":9.67,"v":-17.5},{"s":"Before","t":10.08,"v":17.1},{"s":"Before","t":10.42,"v":62.9},{"s":"Before","t":10.67,"v":69.2},{"s":"Before","t":11.0,"v":63.75},{"s":"Before","t":11.33,"v":25.4},{"s":"Before","t":12.17,"v":-24.6},{"s":"Before","t":13.42,"v":-53.75},{"s":"Before","t":15.92,"v":-58.75},{"s":"Before","t":21.33,"v":-61.25},
  {"s":"During","t":23.42,"v":-62.1},{"s":"During","t":26.75,"v":-61.25},{"s":"During","t":27.42,"v":-43.3},{"s":"During","t":27.75,"v":-37.9},{"s":"During","t":28.42,"v":-35.0},{"s":"During","t":30.92,"v":-28.75},{"s":"During","t":34.25,"v":-19.6},{"s":"During","t":34.67,"v":-41.25},{"s":"During","t":36.75,"v":-49.6},{"s":"During","t":40.92,"v":-53.75},{"s":"During","t":45.5,"v":-55.8},
  {"s":"After","t":47.58,"v":-62.1},{"s":"After","t":50.75,"v":-62.1},{"s":"After","t":51.33,"v":-43.3},{"s":"After","t":52.17,"v":-35.0},{"s":"After","t":54.67,"v":-28.75},{"s":"After","t":57.17,"v":-22.5},{"s":"After","t":57.75,"v":0.4},{"s":"After","t":58.25,"v":63.75},{"s":"After","t":58.58,"v":58.75},{"s":"After","t":59.25,"v":17.1},{"s":"After","t":60.08,"v":-24.6},{"s":"After","t":61.75,"v":-53.75},{"s":"After","t":64.25,"v":-61.25},{"s":"After","t":70.08,"v":-63.3}]},
  "mark": {"type": "line", "color": "#e52129", "strokeWidth": 1.4}, "encoding": {"detail": {"field": "s"}}},
 {"data": {"values": [{"t":60.75,"t2":60.75,"v":-136.25,"v2":-156.25},{"t":58.75,"t2":60.75,"v":-156.25,"v2":-156.25}]},
  "mark": {"type": "rule", "color": "#2b2b2b", "strokeWidth": 1.2}, "encoding": {"x2": {"field": "t2"}, "y2": {"field": "v2"}}},
 {"data": {"values": [{"t":-9.0,"v":121.25,"label":"G"}]}, "mark": {"type": "text", "align": "left", "fontSize": 19}, "encoding": {"text": {"field": "label"}}},
 {"data": {"values": [{"t":-12.5,"v":8.75,"label":"Membrane"},{"t":-12.5,"v":-10,"label":"potential"},{"t":-12.5,"v":-101.25,"label":"Current"},{"t":62.0,"v":-138.75,"label":"20 mV"},{"t":62.0,"v":-156.25,"label":"300 pA"}]}, "mark": {"type": "text", "align": "left"}, "encoding": {"text": {"field": "label"}}},
 {"data": {"values": [{"t":8.75,"v":95.0,"label":"Before"},{"t":34.25,"v":95.0,"label":"During"},{"t":58.5,"v":95.0,"label":"After"},{"t":58.75,"v":-168.75,"label":"2 ms"}]}, "mark": {"type": "text", "align": "center"}, "encoding": {"text": {"field": "label"}}}
]},
{
"data": {"values": [{"s":"Before","t":0.67,"v":0},{"s":"Before","t":3.58,"v":0},{"s":"Before","t":3.58,"v":340},{"s":"Before","t":13.42,"v":340},{"s":"Before","t":13.42,"v":0},{"s":"Before","t":16.17,"v":0},
 {"s":"During","t":24.25,"v":0},{"s":"During","t":27.17,"v":0},{"s":"During","t":27.17,"v":340},{"s":"During","t":36.92,"v":340},{"s":"During","t":36.92,"v":0},{"s":"During","t":39.67,"v":0},
 {"s":"After","t":47.83,"v":0},{"s":"After","t":50.75,"v":0},{"s":"After","t":50.75,"v":340},{"s":"After","t":60.5,"v":340},{"s":"After","t":60.5,"v":0},{"s":"After","t":63.25,"v":0}]},
"mark": {"type": "line", "color": "#1a1a1a", "strokeWidth": 1.3},
"encoding": {"x": {"field": "t", "type": "quantitative", "scale": {"domain": [-95.75, 73.75], "nice": false, "zero": false}, "axis": null},
 "y": {"field": "v", "type": "quantitative", "scale": {"domain": [-1068.75, 16631.25], "nice": false, "zero": false}, "axis": null},
 "detail": {"field": "s"}, "order": {"value": null}}
}
]
}
